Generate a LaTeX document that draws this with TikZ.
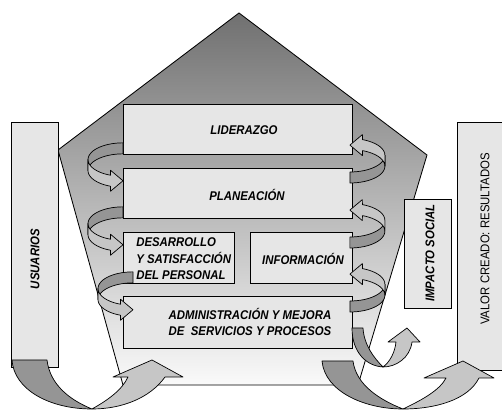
\documentclass[tikz,border=0pt]{standalone}
\usepackage{fontspec}
\usepackage{tikz}
\usetikzlibrary{calc}
\newfontfamily\diagfont[FakeStretch=0.9]{Liberation Sans}
\newfontfamily\valfont[FakeStretch=0.9]{Liberation Sans}
\definecolor{boxgray}{HTML}{E6E6E6}
\definecolor{banddark}{HTML}{959595}
\definecolor{bandlight}{HTML}{C6C6C6}

\newcommand{\loopribbon}{%
  \filldraw[darkband] plot[domain=90:180,samples=16,variable=\t] ({35*cos(\t)},{4.75-16.75*sin(\t)})
    -- plot[domain=180:90,samples=16,variable=\t] ({35*cos(\t)},{15.75-16.75*sin(\t)}) -- cycle;
  \filldraw[lightband] plot[domain=180:249,samples=12,variable=\t] ({35*cos(\t)},{4.75-16.75*sin(\t)})
    -- (-12.5,15.4) -- (0,25.9) -- (-12.5,36.4)
    -- plot[domain=249:180,samples=12,variable=\t] ({35*cos(\t)},{15.75-16.75*sin(\t)}) -- cycle;
}

\begin{document}
\begin{tikzpicture}[
    x=0.025cm, y=-0.025cm,
    box/.style={draw, fill=boxgray, line width=0.6pt, inner sep=0pt, anchor=north west},
    lbl/.style={font=\diagfont\bfseries\itshape\fontsize{9}{11.7}\selectfont, align=center, inner sep=0pt},
    darkband/.style={fill=banddark, draw=black, line width=0.5pt, line join=round},
    lightband/.style={fill=bandlight, draw=black, line width=0.5pt, line join=round},
    house/.style={draw, line width=0.6pt, top color=black!56, bottom color=black!2}
]
\useasboundingbox (0,0) rectangle (502,411);
\draw[house] (239,13) -- (427,155) -- (358,385) -- (123,385) -- (58,150) -- cycle;

\node[box, minimum width=1.175cm, minimum height=6.125cm] (usuarios) at (11,122) {};
\node[box, minimum width=1.325cm, minimum height=6.2cm] (valor) at (457,122) {};
\node[box, minimum width=1.175cm, minimum height=2.725cm] (impacto) at (404,199) {};
\node[box, minimum width=5.725cm, minimum height=1.25cm] (liderazgo) at (123,104) {};
\node[box, minimum width=5.725cm, minimum height=1.25cm] (planeacion) at (123,168) {};
\node[box, minimum width=2.775cm, minimum height=1.275cm] (desarrollo) at (123,232) {};
\node[box, minimum width=2.55cm, minimum height=1.275cm] (informacion) at (250,232) {};
\node[box, minimum width=5.725cm, minimum height=1.3cm] (administracion) at (123,296) {};

\node[lbl] (liderazgotxt) at (244,130) {LIDERAZGO};
\node[lbl] (planeaciontxt) at (247,195) {PLANEACIÓN};
\node[lbl, align=left, anchor=west] (desarrollotxt) at (136,259) {DESARROLLO\\Y SATISFACCIÓN\\DEL PERSONAL};
\node[lbl] (informaciontxt) at (303,259) {INFORMACIÓN};
\node[lbl, font=\diagfont\bfseries\itshape\fontsize{9}{11.2}\selectfont] (administraciontxt) at (250,322) {ADMINISTRACIÓN Y MEJORA\\DE\ \ SERVICIOS Y PROCESOS};
\node[lbl, rotate=90] (usuariostxt) at (35,259) {USUARIOS};
\node[lbl, rotate=90] (impactotxt) at (430,253) {IMPACTO SOCIAL};
\node[font=\valfont\fontsize{9}{11}\selectfont, rotate=90, inner sep=0pt] (valortxt) at (485,239) {VALOR CREADO: RESULTADOS};

\begin{scope}[shift={(liderazgo.south west)}] \loopribbon \end{scope}
\begin{scope}[shift={(planeacion.south west)}] \loopribbon \end{scope}
\begin{scope}[shift={($(desarrollo.south west)+(10,0)$)}] \loopribbon \end{scope}
\begin{scope}[shift={($(planeacion.north east)+(-3,3)$)}, rotate=180] \loopribbon \end{scope}
\begin{scope}[shift={($(informacion.north east)+(-3,4)$)}, rotate=180] \loopribbon \end{scope}
\begin{scope}[shift={($(administracion.north east)+(-3,4)$)}, rotate=180] \loopribbon \end{scope}

\filldraw[darkband] (12,360) .. controls (14,390) and (50,409) .. (92,409) .. controls (70,400) and (50,385) .. (47,360) -- cycle;
\filldraw[lightband] (92,409) .. controls (108,400) and (122,390) .. (128,377) -- (113,377) -- (152,360) -- (183,377) -- (165,377) .. controls (150,398) and (122,409) .. (92,409) -- cycle;

\filldraw[darkband] (322,361) .. controls (325,392) and (365,409) .. (403,409) .. controls (380,400) and (356,385) .. (353,361) -- cycle;
\filldraw[lightband] (403,409) .. controls (422,400) and (440,390) .. (446,378) -- (424,378) -- (463,361) -- (494,378) -- (479,378) .. controls (468,400) and (435,409) .. (403,409) -- cycle;

\filldraw[darkband] (352,328) .. controls (352,352) and (366,366) .. (383,367) .. controls (374,358) and (364,345) .. (363,328) -- cycle;
\filldraw[lightband] (383,367) .. controls (390,362) and (395,352) .. (396,342) -- (388,342) -- (407,328) -- (420,342) -- (412,342) .. controls (410,358) and (396,367) .. (383,367) -- cycle;
\end{tikzpicture}
\end{document}
